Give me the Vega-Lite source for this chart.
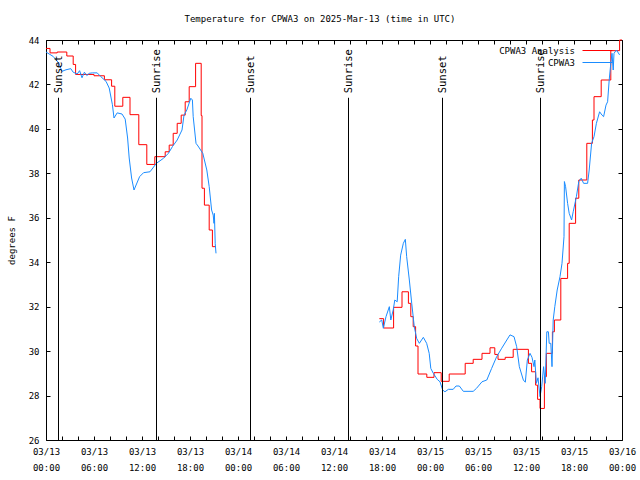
{
  "$schema": "https://vega.github.io/schema/vega-lite/v6.json",
  "width": 576,
  "height": 400,
  "autosize": {"type": "none"},
  "padding": {"left": 46, "top": 40, "right": 18, "bottom": 40},
  "background": "white",
  "title": {"text": "Temperature for CPWA3 on 2025-Mar-13 (time in UTC)", "font": "DejaVu Sans Mono", "fontSize": 9, "fontWeight": "normal", "anchor": "middle", "frame": "group", "dx": -14, "offset": 12, "color": "black"},
  "config": {
    "font": "DejaVu Sans Mono",
    "view": {"stroke": "black", "strokeWidth": 1},
    "axis": {"grid": false, "domain": false, "tickColor": "black", "tickSize": 4, "labelColor": "black", "labelFont": "DejaVu Sans Mono", "labelFontSize": 9, "titleFont": "DejaVu Sans Mono", "titleFontSize": 9, "titleFontWeight": "normal", "titleColor": "black"}
  },
  "datasets": {
    "temps": [
      {"time": "2025-03-13T00:00:00Z", "temp": 43.62, "series": "CPWA3 Analysis", "part": 1},
      {"time": "2025-03-13T00:30:00Z", "temp": 43.42, "series": "CPWA3 Analysis", "part": 1},
      {"time": "2025-03-13T01:24:00Z", "temp": 43.46, "series": "CPWA3 Analysis", "part": 1},
      {"time": "2025-03-13T02:36:00Z", "temp": 43.28, "series": "CPWA3 Analysis", "part": 1},
      {"time": "2025-03-13T03:24:00Z", "temp": 42.9, "series": "CPWA3 Analysis", "part": 1},
      {"time": "2025-03-13T03:42:00Z", "temp": 42.45, "series": "CPWA3 Analysis", "part": 1},
      {"time": "2025-03-13T06:00:00Z", "temp": 42.39, "series": "CPWA3 Analysis", "part": 1},
      {"time": "2025-03-13T07:18:00Z", "temp": 42.21, "series": "CPWA3 Analysis", "part": 1},
      {"time": "2025-03-13T08:12:00Z", "temp": 41.92, "series": "CPWA3 Analysis", "part": 1},
      {"time": "2025-03-13T08:36:00Z", "temp": 41.02, "series": "CPWA3 Analysis", "part": 1},
      {"time": "2025-03-13T09:36:00Z", "temp": 41.42, "series": "CPWA3 Analysis", "part": 1},
      {"time": "2025-03-13T10:30:00Z", "temp": 40.64, "series": "CPWA3 Analysis", "part": 1},
      {"time": "2025-03-13T11:36:00Z", "temp": 39.29, "series": "CPWA3 Analysis", "part": 1},
      {"time": "2025-03-13T12:36:00Z", "temp": 38.4, "series": "CPWA3 Analysis", "part": 1},
      {"time": "2025-03-13T13:36:00Z", "temp": 38.75, "series": "CPWA3 Analysis", "part": 1},
      {"time": "2025-03-13T14:54:00Z", "temp": 38.97, "series": "CPWA3 Analysis", "part": 1},
      {"time": "2025-03-13T15:24:00Z", "temp": 39.27, "series": "CPWA3 Analysis", "part": 1},
      {"time": "2025-03-13T15:54:00Z", "temp": 39.8, "series": "CPWA3 Analysis", "part": 1},
      {"time": "2025-03-13T16:24:00Z", "temp": 40.25, "series": "CPWA3 Analysis", "part": 1},
      {"time": "2025-03-13T16:54:00Z", "temp": 40.62, "series": "CPWA3 Analysis", "part": 1},
      {"time": "2025-03-13T17:24:00Z", "temp": 41.22, "series": "CPWA3 Analysis", "part": 1},
      {"time": "2025-03-13T17:54:00Z", "temp": 41.9, "series": "CPWA3 Analysis", "part": 1},
      {"time": "2025-03-13T18:42:00Z", "temp": 42.95, "series": "CPWA3 Analysis", "part": 1},
      {"time": "2025-03-13T19:24:00Z", "temp": 40.6, "series": "CPWA3 Analysis", "part": 1},
      {"time": "2025-03-13T19:30:00Z", "temp": 37.33, "series": "CPWA3 Analysis", "part": 1},
      {"time": "2025-03-13T19:48:00Z", "temp": 36.57, "series": "CPWA3 Analysis", "part": 1},
      {"time": "2025-03-13T20:24:00Z", "temp": 35.45, "series": "CPWA3 Analysis", "part": 1},
      {"time": "2025-03-13T20:48:00Z", "temp": 34.7, "series": "CPWA3 Analysis", "part": 1},
      {"time": "2025-03-13T21:15:00Z", "temp": 34.7, "series": "CPWA3 Analysis", "part": 1},
      {"time": "2025-03-14T17:40:00Z", "temp": 31.46, "series": "CPWA3 Analysis", "part": 2},
      {"time": "2025-03-14T18:12:00Z", "temp": 31.04, "series": "CPWA3 Analysis", "part": 2},
      {"time": "2025-03-14T19:27:00Z", "temp": 31.97, "series": "CPWA3 Analysis", "part": 2},
      {"time": "2025-03-14T20:30:00Z", "temp": 32.67, "series": "CPWA3 Analysis", "part": 2},
      {"time": "2025-03-14T21:18:00Z", "temp": 32.15, "series": "CPWA3 Analysis", "part": 2},
      {"time": "2025-03-14T21:36:00Z", "temp": 31.55, "series": "CPWA3 Analysis", "part": 2},
      {"time": "2025-03-14T21:54:00Z", "temp": 31.1, "series": "CPWA3 Analysis", "part": 2},
      {"time": "2025-03-14T22:12:00Z", "temp": 30.23, "series": "CPWA3 Analysis", "part": 2},
      {"time": "2025-03-14T22:30:00Z", "temp": 28.97, "series": "CPWA3 Analysis", "part": 2},
      {"time": "2025-03-14T23:36:00Z", "temp": 28.82, "series": "CPWA3 Analysis", "part": 2},
      {"time": "2025-03-15T00:30:00Z", "temp": 29.03, "series": "CPWA3 Analysis", "part": 2},
      {"time": "2025-03-15T01:24:00Z", "temp": 28.64, "series": "CPWA3 Analysis", "part": 2},
      {"time": "2025-03-15T02:24:00Z", "temp": 28.97, "series": "CPWA3 Analysis", "part": 2},
      {"time": "2025-03-15T04:24:00Z", "temp": 29.45, "series": "CPWA3 Analysis", "part": 2},
      {"time": "2025-03-15T05:24:00Z", "temp": 29.63, "series": "CPWA3 Analysis", "part": 2},
      {"time": "2025-03-15T06:30:00Z", "temp": 29.9, "series": "CPWA3 Analysis", "part": 2},
      {"time": "2025-03-15T07:30:00Z", "temp": 30.15, "series": "CPWA3 Analysis", "part": 2},
      {"time": "2025-03-15T08:06:00Z", "temp": 29.85, "series": "CPWA3 Analysis", "part": 2},
      {"time": "2025-03-15T08:30:00Z", "temp": 29.63, "series": "CPWA3 Analysis", "part": 2},
      {"time": "2025-03-15T09:24:00Z", "temp": 29.72, "series": "CPWA3 Analysis", "part": 2},
      {"time": "2025-03-15T10:24:00Z", "temp": 30.08, "series": "CPWA3 Analysis", "part": 2},
      {"time": "2025-03-15T12:18:00Z", "temp": 29.45, "series": "CPWA3 Analysis", "part": 2},
      {"time": "2025-03-15T12:42:00Z", "temp": 29.07, "series": "CPWA3 Analysis", "part": 2},
      {"time": "2025-03-15T13:12:00Z", "temp": 28.47, "series": "CPWA3 Analysis", "part": 2},
      {"time": "2025-03-15T13:27:00Z", "temp": 27.83, "series": "CPWA3 Analysis", "part": 2},
      {"time": "2025-03-15T13:45:00Z", "temp": 27.42, "series": "CPWA3 Analysis", "part": 2},
      {"time": "2025-03-15T14:18:00Z", "temp": 28.85, "series": "CPWA3 Analysis", "part": 2},
      {"time": "2025-03-15T14:33:00Z", "temp": 29.9, "series": "CPWA3 Analysis", "part": 2},
      {"time": "2025-03-15T15:18:00Z", "temp": 30.87, "series": "CPWA3 Analysis", "part": 2},
      {"time": "2025-03-15T15:33:00Z", "temp": 31.4, "series": "CPWA3 Analysis", "part": 2},
      {"time": "2025-03-15T16:21:00Z", "temp": 33.27, "series": "CPWA3 Analysis", "part": 2},
      {"time": "2025-03-15T17:12:00Z", "temp": 33.95, "series": "CPWA3 Analysis", "part": 2},
      {"time": "2025-03-15T17:24:00Z", "temp": 35.75, "series": "CPWA3 Analysis", "part": 2},
      {"time": "2025-03-15T18:12:00Z", "temp": 36.88, "series": "CPWA3 Analysis", "part": 2},
      {"time": "2025-03-15T18:36:00Z", "temp": 37.7, "series": "CPWA3 Analysis", "part": 2},
      {"time": "2025-03-15T19:36:00Z", "temp": 39.35, "series": "CPWA3 Analysis", "part": 2},
      {"time": "2025-03-15T20:18:00Z", "temp": 40.4, "series": "CPWA3 Analysis", "part": 2},
      {"time": "2025-03-15T20:30:00Z", "temp": 41.45, "series": "CPWA3 Analysis", "part": 2},
      {"time": "2025-03-15T21:24:00Z", "temp": 42.2, "series": "CPWA3 Analysis", "part": 2},
      {"time": "2025-03-15T22:36:00Z", "temp": 43.52, "series": "CPWA3 Analysis", "part": 2},
      {"time": "2025-03-15T23:42:00Z", "temp": 44.0, "series": "CPWA3 Analysis", "part": 2},
      {"time": "2025-03-16T00:00:00Z", "temp": 44.0, "series": "CPWA3 Analysis", "part": 2},

      {"time": "2025-03-13T00:00:00Z", "temp": 43.46, "series": "CPWA3", "part": 1},
      {"time": "2025-03-13T00:54:00Z", "temp": 43.26, "series": "CPWA3", "part": 1},
      {"time": "2025-03-13T01:36:00Z", "temp": 42.96, "series": "CPWA3", "part": 1},
      {"time": "2025-03-13T02:00:00Z", "temp": 42.59, "series": "CPWA3", "part": 1},
      {"time": "2025-03-13T02:30:00Z", "temp": 42.66, "series": "CPWA3", "part": 1},
      {"time": "2025-03-13T03:06:00Z", "temp": 42.71, "series": "CPWA3", "part": 1},
      {"time": "2025-03-13T03:24:00Z", "temp": 42.55, "series": "CPWA3", "part": 1},
      {"time": "2025-03-13T03:54:00Z", "temp": 42.47, "series": "CPWA3", "part": 1},
      {"time": "2025-03-13T04:12:00Z", "temp": 42.62, "series": "CPWA3", "part": 1},
      {"time": "2025-03-13T04:30:00Z", "temp": 42.3, "series": "CPWA3", "part": 1},
      {"time": "2025-03-13T04:48:00Z", "temp": 42.55, "series": "CPWA3", "part": 1},
      {"time": "2025-03-13T05:06:00Z", "temp": 42.4, "series": "CPWA3", "part": 1},
      {"time": "2025-03-13T05:24:00Z", "temp": 42.5, "series": "CPWA3", "part": 1},
      {"time": "2025-03-13T05:48:00Z", "temp": 42.52, "series": "CPWA3", "part": 1},
      {"time": "2025-03-13T06:24:00Z", "temp": 42.52, "series": "CPWA3", "part": 1},
      {"time": "2025-03-13T06:48:00Z", "temp": 42.37, "series": "CPWA3", "part": 1},
      {"time": "2025-03-13T07:30:00Z", "temp": 42.14, "series": "CPWA3", "part": 1},
      {"time": "2025-03-13T07:54:00Z", "temp": 41.84, "series": "CPWA3", "part": 1},
      {"time": "2025-03-13T08:18:00Z", "temp": 41.09, "series": "CPWA3", "part": 1},
      {"time": "2025-03-13T08:30:00Z", "temp": 40.49, "series": "CPWA3", "part": 1},
      {"time": "2025-03-13T08:54:00Z", "temp": 40.72, "series": "CPWA3", "part": 1},
      {"time": "2025-03-13T09:30:00Z", "temp": 40.67, "series": "CPWA3", "part": 1},
      {"time": "2025-03-13T09:54:00Z", "temp": 40.44, "series": "CPWA3", "part": 1},
      {"time": "2025-03-13T10:12:00Z", "temp": 39.59, "series": "CPWA3", "part": 1},
      {"time": "2025-03-13T10:24:00Z", "temp": 38.69, "series": "CPWA3", "part": 1},
      {"time": "2025-03-13T10:42:00Z", "temp": 37.79, "series": "CPWA3", "part": 1},
      {"time": "2025-03-13T11:00:00Z", "temp": 37.25, "series": "CPWA3", "part": 1},
      {"time": "2025-03-13T11:42:00Z", "temp": 37.85, "series": "CPWA3", "part": 1},
      {"time": "2025-03-13T12:12:00Z", "temp": 38.03, "series": "CPWA3", "part": 1},
      {"time": "2025-03-13T13:00:00Z", "temp": 38.07, "series": "CPWA3", "part": 1},
      {"time": "2025-03-13T13:48:00Z", "temp": 38.45, "series": "CPWA3", "part": 1},
      {"time": "2025-03-13T14:42:00Z", "temp": 38.68, "series": "CPWA3", "part": 1},
      {"time": "2025-03-13T15:18:00Z", "temp": 38.9, "series": "CPWA3", "part": 1},
      {"time": "2025-03-13T15:48:00Z", "temp": 39.2, "series": "CPWA3", "part": 1},
      {"time": "2025-03-13T16:24:00Z", "temp": 39.5, "series": "CPWA3", "part": 1},
      {"time": "2025-03-13T17:00:00Z", "temp": 39.95, "series": "CPWA3", "part": 1},
      {"time": "2025-03-13T17:15:00Z", "temp": 40.62, "series": "CPWA3", "part": 1},
      {"time": "2025-03-13T17:36:00Z", "temp": 40.85, "series": "CPWA3", "part": 1},
      {"time": "2025-03-13T18:06:00Z", "temp": 41.38, "series": "CPWA3", "part": 1},
      {"time": "2025-03-13T18:18:00Z", "temp": 41.3, "series": "CPWA3", "part": 1},
      {"time": "2025-03-13T18:24:00Z", "temp": 40.55, "series": "CPWA3", "part": 1},
      {"time": "2025-03-13T18:45:00Z", "temp": 39.35, "series": "CPWA3", "part": 1},
      {"time": "2025-03-13T19:00:00Z", "temp": 39.23, "series": "CPWA3", "part": 1},
      {"time": "2025-03-13T19:36:00Z", "temp": 38.9, "series": "CPWA3", "part": 1},
      {"time": "2025-03-13T20:06:00Z", "temp": 38.15, "series": "CPWA3", "part": 1},
      {"time": "2025-03-13T20:24:00Z", "temp": 37.4, "series": "CPWA3", "part": 1},
      {"time": "2025-03-13T20:42:00Z", "temp": 36.35, "series": "CPWA3", "part": 1},
      {"time": "2025-03-13T20:54:00Z", "temp": 36.12, "series": "CPWA3", "part": 1},
      {"time": "2025-03-13T21:00:00Z", "temp": 35.75, "series": "CPWA3", "part": 1},
      {"time": "2025-03-13T21:03:00Z", "temp": 36.2, "series": "CPWA3", "part": 1},
      {"time": "2025-03-13T21:09:00Z", "temp": 34.85, "series": "CPWA3", "part": 1},
      {"time": "2025-03-13T21:15:00Z", "temp": 34.4, "series": "CPWA3", "part": 1},
      {"time": "2025-03-14T17:40:00Z", "temp": 31.31, "series": "CPWA3", "part": 2},
      {"time": "2025-03-14T17:58:00Z", "temp": 31.4, "series": "CPWA3", "part": 2},
      {"time": "2025-03-14T18:10:00Z", "temp": 31.03, "series": "CPWA3", "part": 2},
      {"time": "2025-03-14T18:30:00Z", "temp": 31.55, "series": "CPWA3", "part": 2},
      {"time": "2025-03-14T18:55:00Z", "temp": 32.0, "series": "CPWA3", "part": 2},
      {"time": "2025-03-14T19:06:00Z", "temp": 31.4, "series": "CPWA3", "part": 2},
      {"time": "2025-03-14T19:24:00Z", "temp": 31.85, "series": "CPWA3", "part": 2},
      {"time": "2025-03-14T19:36:00Z", "temp": 32.3, "series": "CPWA3", "part": 2},
      {"time": "2025-03-14T19:54:00Z", "temp": 32.22, "series": "CPWA3", "part": 2},
      {"time": "2025-03-14T20:05:00Z", "temp": 33.35, "series": "CPWA3", "part": 2},
      {"time": "2025-03-14T20:20:00Z", "temp": 34.32, "series": "CPWA3", "part": 2},
      {"time": "2025-03-14T20:40:00Z", "temp": 34.85, "series": "CPWA3", "part": 2},
      {"time": "2025-03-14T20:55:00Z", "temp": 35.03, "series": "CPWA3", "part": 2},
      {"time": "2025-03-14T21:05:00Z", "temp": 34.25, "series": "CPWA3", "part": 2},
      {"time": "2025-03-14T21:25:00Z", "temp": 33.2, "series": "CPWA3", "part": 2},
      {"time": "2025-03-14T21:43:00Z", "temp": 32.15, "series": "CPWA3", "part": 2},
      {"time": "2025-03-14T22:02:00Z", "temp": 31.1, "series": "CPWA3", "part": 2},
      {"time": "2025-03-14T22:20:00Z", "temp": 30.57, "series": "CPWA3", "part": 2},
      {"time": "2025-03-14T22:40:00Z", "temp": 30.35, "series": "CPWA3", "part": 2},
      {"time": "2025-03-14T23:10:00Z", "temp": 30.62, "series": "CPWA3", "part": 2},
      {"time": "2025-03-14T23:35:00Z", "temp": 30.35, "series": "CPWA3", "part": 2},
      {"time": "2025-03-14T23:54:00Z", "temp": 29.9, "series": "CPWA3", "part": 2},
      {"time": "2025-03-15T00:06:00Z", "temp": 29.22, "series": "CPWA3", "part": 2},
      {"time": "2025-03-15T00:25:00Z", "temp": 29.0, "series": "CPWA3", "part": 2},
      {"time": "2025-03-15T00:54:00Z", "temp": 28.73, "series": "CPWA3", "part": 2},
      {"time": "2025-03-15T01:15:00Z", "temp": 28.62, "series": "CPWA3", "part": 2},
      {"time": "2025-03-15T01:35:00Z", "temp": 28.25, "series": "CPWA3", "part": 2},
      {"time": "2025-03-15T01:52:00Z", "temp": 28.17, "series": "CPWA3", "part": 2},
      {"time": "2025-03-15T02:18:00Z", "temp": 28.28, "series": "CPWA3", "part": 2},
      {"time": "2025-03-15T02:54:00Z", "temp": 28.28, "series": "CPWA3", "part": 2},
      {"time": "2025-03-15T03:15:00Z", "temp": 28.43, "series": "CPWA3", "part": 2},
      {"time": "2025-03-15T03:40:00Z", "temp": 28.43, "series": "CPWA3", "part": 2},
      {"time": "2025-03-15T04:10:00Z", "temp": 28.19, "series": "CPWA3", "part": 2},
      {"time": "2025-03-15T05:24:00Z", "temp": 28.19, "series": "CPWA3", "part": 2},
      {"time": "2025-03-15T05:48:00Z", "temp": 28.32, "series": "CPWA3", "part": 2},
      {"time": "2025-03-15T06:30:00Z", "temp": 28.62, "series": "CPWA3", "part": 2},
      {"time": "2025-03-15T07:06:00Z", "temp": 28.7, "series": "CPWA3", "part": 2},
      {"time": "2025-03-15T07:42:00Z", "temp": 29.22, "series": "CPWA3", "part": 2},
      {"time": "2025-03-15T08:20:00Z", "temp": 29.75, "series": "CPWA3", "part": 2},
      {"time": "2025-03-15T08:58:00Z", "temp": 30.13, "series": "CPWA3", "part": 2},
      {"time": "2025-03-15T09:36:00Z", "temp": 30.5, "series": "CPWA3", "part": 2},
      {"time": "2025-03-15T10:00:00Z", "temp": 30.73, "series": "CPWA3", "part": 2},
      {"time": "2025-03-15T10:30:00Z", "temp": 30.65, "series": "CPWA3", "part": 2},
      {"time": "2025-03-15T10:50:00Z", "temp": 30.2, "series": "CPWA3", "part": 2},
      {"time": "2025-03-15T11:10:00Z", "temp": 29.3, "series": "CPWA3", "part": 2},
      {"time": "2025-03-15T11:40:00Z", "temp": 28.7, "series": "CPWA3", "part": 2},
      {"time": "2025-03-15T11:55:00Z", "temp": 28.6, "series": "CPWA3", "part": 2},
      {"time": "2025-03-15T12:10:00Z", "temp": 29.6, "series": "CPWA3", "part": 2},
      {"time": "2025-03-15T12:30:00Z", "temp": 29.9, "series": "CPWA3", "part": 2},
      {"time": "2025-03-15T12:45:00Z", "temp": 29.72, "series": "CPWA3", "part": 2},
      {"time": "2025-03-15T13:00:00Z", "temp": 29.3, "series": "CPWA3", "part": 2},
      {"time": "2025-03-15T13:06:00Z", "temp": 29.6, "series": "CPWA3", "part": 2},
      {"time": "2025-03-15T13:18:00Z", "temp": 28.55, "series": "CPWA3", "part": 2},
      {"time": "2025-03-15T13:30:00Z", "temp": 28.8, "series": "CPWA3", "part": 2},
      {"time": "2025-03-15T13:45:00Z", "temp": 27.95, "series": "CPWA3", "part": 2},
      {"time": "2025-03-15T13:58:00Z", "temp": 28.4, "series": "CPWA3", "part": 2},
      {"time": "2025-03-15T14:12:00Z", "temp": 29.3, "series": "CPWA3", "part": 2},
      {"time": "2025-03-15T14:24:00Z", "temp": 28.55, "series": "CPWA3", "part": 2},
      {"time": "2025-03-15T14:36:00Z", "temp": 30.87, "series": "CPWA3", "part": 2},
      {"time": "2025-03-15T14:48:00Z", "temp": 30.87, "series": "CPWA3", "part": 2},
      {"time": "2025-03-15T14:54:00Z", "temp": 30.35, "series": "CPWA3", "part": 2},
      {"time": "2025-03-15T15:06:00Z", "temp": 30.35, "series": "CPWA3", "part": 2},
      {"time": "2025-03-15T15:15:00Z", "temp": 29.3, "series": "CPWA3", "part": 2},
      {"time": "2025-03-15T15:24:00Z", "temp": 31.4, "series": "CPWA3", "part": 2},
      {"time": "2025-03-15T15:36:00Z", "temp": 32.0, "series": "CPWA3", "part": 2},
      {"time": "2025-03-15T15:54:00Z", "temp": 32.75, "series": "CPWA3", "part": 2},
      {"time": "2025-03-15T16:15:00Z", "temp": 33.35, "series": "CPWA3", "part": 2},
      {"time": "2025-03-15T16:30:00Z", "temp": 33.95, "series": "CPWA3", "part": 2},
      {"time": "2025-03-15T16:45:00Z", "temp": 35.15, "series": "CPWA3", "part": 2},
      {"time": "2025-03-15T16:48:00Z", "temp": 37.63, "series": "CPWA3", "part": 2},
      {"time": "2025-03-15T16:57:00Z", "temp": 37.4, "series": "CPWA3", "part": 2},
      {"time": "2025-03-15T17:12:00Z", "temp": 36.65, "series": "CPWA3", "part": 2},
      {"time": "2025-03-15T17:24:00Z", "temp": 36.2, "series": "CPWA3", "part": 2},
      {"time": "2025-03-15T17:42:00Z", "temp": 35.9, "series": "CPWA3", "part": 2},
      {"time": "2025-03-15T17:54:00Z", "temp": 36.27, "series": "CPWA3", "part": 2},
      {"time": "2025-03-15T18:18:00Z", "temp": 36.95, "series": "CPWA3", "part": 2},
      {"time": "2025-03-15T18:36:00Z", "temp": 37.63, "series": "CPWA3", "part": 2},
      {"time": "2025-03-15T18:54:00Z", "temp": 37.78, "series": "CPWA3", "part": 2},
      {"time": "2025-03-15T19:12:00Z", "temp": 37.55, "series": "CPWA3", "part": 2},
      {"time": "2025-03-15T19:42:00Z", "temp": 37.55, "series": "CPWA3", "part": 2},
      {"time": "2025-03-15T19:54:00Z", "temp": 38.15, "series": "CPWA3", "part": 2},
      {"time": "2025-03-15T20:12:00Z", "temp": 39.35, "series": "CPWA3", "part": 2},
      {"time": "2025-03-15T20:30:00Z", "temp": 39.65, "series": "CPWA3", "part": 2},
      {"time": "2025-03-15T20:48:00Z", "temp": 40.25, "series": "CPWA3", "part": 2},
      {"time": "2025-03-15T21:12:00Z", "temp": 40.77, "series": "CPWA3", "part": 2},
      {"time": "2025-03-15T21:30:00Z", "temp": 40.62, "series": "CPWA3", "part": 2},
      {"time": "2025-03-15T21:42:00Z", "temp": 40.55, "series": "CPWA3", "part": 2},
      {"time": "2025-03-15T22:00:00Z", "temp": 41.07, "series": "CPWA3", "part": 2},
      {"time": "2025-03-15T22:12:00Z", "temp": 41.22, "series": "CPWA3", "part": 2},
      {"time": "2025-03-15T22:24:00Z", "temp": 42.2, "series": "CPWA3", "part": 2},
      {"time": "2025-03-15T22:36:00Z", "temp": 42.95, "series": "CPWA3", "part": 2},
      {"time": "2025-03-15T22:45:00Z", "temp": 43.4, "series": "CPWA3", "part": 2},
      {"time": "2025-03-15T22:54:00Z", "temp": 42.65, "series": "CPWA3", "part": 2},
      {"time": "2025-03-15T23:00:00Z", "temp": 43.4, "series": "CPWA3", "part": 2},
      {"time": "2025-03-15T23:18:00Z", "temp": 43.55, "series": "CPWA3", "part": 2},
      {"time": "2025-03-15T23:42:00Z", "temp": 43.33, "series": "CPWA3", "part": 2}
    ],
    "sun": [
      {"time": "2025-03-13T01:30:00Z", "event": "Sunset"},
      {"time": "2025-03-13T13:45:00Z", "event": "Sunrise"},
      {"time": "2025-03-14T01:30:00Z", "event": "Sunset"},
      {"time": "2025-03-14T13:45:00Z", "event": "Sunrise"},
      {"time": "2025-03-15T01:30:00Z", "event": "Sunset"},
      {"time": "2025-03-15T13:45:00Z", "event": "Sunrise"}
    ]
  },
  "resolve": {"axis": {"x": "independent", "y": "independent"}},
  "layer": [
    {
      "data": {"name": "temps"},
      "transform": [{"filter": "datum.series === 'CPWA3 Analysis'"}],
      "mark": {"type": "line", "interpolate": "step-after", "strokeWidth": 1},
      "encoding": {
        "x": {"field": "time", "type": "temporal", "scale": {"type": "utc", "domain": [1741824000000, 1742083200000]}, "axis": {"orient": "bottom", "title": null, "offset": -4, "values": [1741824000000, 1741831200000, 1741838400000, 1741845600000, 1741852800000, 1741860000000, 1741867200000, 1741874400000, 1741881600000, 1741888800000, 1741896000000, 1741903200000, 1741910400000, 1741917600000, 1741924800000, 1741932000000, 1741939200000, 1741946400000, 1741953600000, 1741960800000, 1741968000000, 1741975200000, 1741982400000, 1741989600000, 1741996800000, 1742004000000, 1742011200000, 1742018400000, 1742025600000, 1742032800000, 1742040000000, 1742047200000, 1742054400000, 1742061600000, 1742068800000, 1742076000000, 1742083200000], "labelPadding": 7, "labelBaseline": "top", "labelOverlap": false, "labelFlush": false, "labelExpr": "utchours(datum.value) % 6 == 0 ? utcFormat(datum.value, '%m/%d') : ''"}},
        "y": {"field": "temp", "type": "quantitative", "scale": {"domain": [26, 44], "nice": false, "zero": false}, "axis": {"orient": "left", "title": "degrees F", "offset": -4, "values": [26, 28, 30, 32, 34, 36, 38, 40, 42, 44], "labelPadding": 7, "labelAlign": "right", "labelBaseline": "middle", "titleX": -39, "titleY": 200, "titleAngle": 270, "titleAlign": "center", "titleBaseline": "middle"}},
        "color": {"field": "series", "type": "nominal", "scale": {"domain": ["CPWA3 Analysis", "CPWA3"], "range": ["#ff0000", "#1a8cff"]}, "legend": {"orient": "none", "legendX": 545, "legendY": 4, "title": null, "symbolType": "M-2.5,0H2.5", "symbolSize": 144, "symbolStrokeWidth": 1, "labelAlign": "right", "labelOffset": -29, "labelFont": "DejaVu Sans Mono", "labelFontSize": 9, "labelColor": "black", "rowPadding": 0, "padding": 0}},
        "detail": {"field": "part", "type": "nominal"}
      }
    },
    {
      "data": {"name": "temps"},
      "transform": [{"filter": "datum.series === 'CPWA3'"}],
      "mark": {"type": "line", "interpolate": "linear", "strokeWidth": 1},
      "encoding": {
        "x": {"field": "time", "type": "temporal", "axis": null},
        "y": {"field": "temp", "type": "quantitative", "axis": {"orient": "right", "title": null, "labels": false, "offset": -4, "values": [26, 28, 30, 32, 34, 36, 38, 40, 42, 44]}},
        "color": {"field": "series", "type": "nominal"},
        "detail": {"field": "part", "type": "nominal"}
      }
    },
    {
      "data": {"name": "sun"},
      "mark": {"type": "rule", "color": "black", "strokeWidth": 1, "xOffset": 0.5},
      "encoding": {
        "x": {"field": "time", "type": "temporal", "axis": {"orient": "top", "title": null, "labels": false, "offset": -4, "values": [1741824000000, 1741831200000, 1741838400000, 1741845600000, 1741852800000, 1741860000000, 1741867200000, 1741874400000, 1741881600000, 1741888800000, 1741896000000, 1741903200000, 1741910400000, 1741917600000, 1741924800000, 1741932000000, 1741939200000, 1741946400000, 1741953600000, 1741960800000, 1741968000000, 1741975200000, 1741982400000, 1741989600000, 1741996800000, 1742004000000, 1742011200000, 1742018400000, 1742025600000, 1742032800000, 1742040000000, 1742047200000, 1742054400000, 1742061600000, 1742068800000, 1742076000000, 1742083200000]}},
        "y": {"datum": 26, "type": "quantitative", "axis": null},
        "y2": {"datum": 41.4}
      }
    },
    {
      "data": {"name": "sun"},
      "mark": {"type": "text", "angle": 270, "align": "left", "baseline": "middle", "font": "DejaVu Sans Mono", "fontSize": 10.5, "color": "black", "xOffset": 1},
      "encoding": {
        "x": {"field": "time", "type": "temporal", "axis": {"orient": "bottom", "title": null, "ticks": false, "values": [1741824000000, 1741845600000, 1741867200000, 1741888800000, 1741910400000, 1741932000000, 1741953600000, 1741975200000, 1741996800000, 1742018400000, 1742040000000, 1742061600000, 1742083200000], "labelPadding": 23, "labelBaseline": "top", "labelOverlap": false, "labelFlush": false, "labelExpr": "utcFormat(datum.value, '%H:%M')"}},
        "y": {"datum": 41.6, "type": "quantitative", "axis": null},
        "text": {"field": "event"}
      }
    }
  ]
}
